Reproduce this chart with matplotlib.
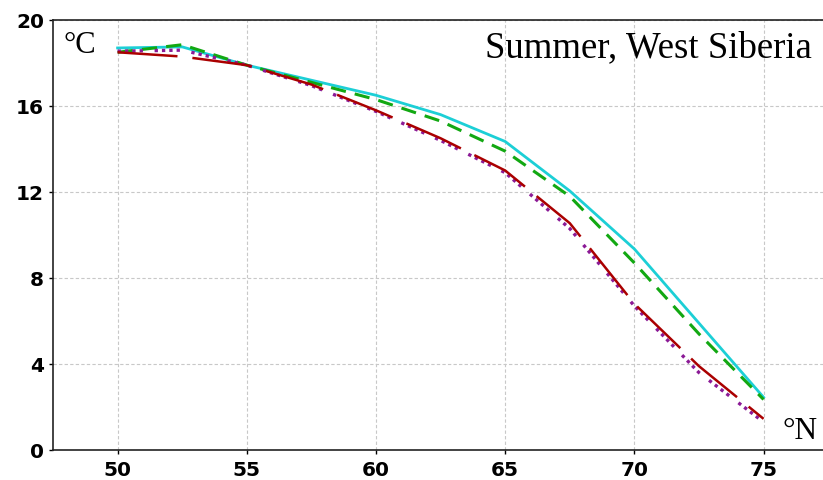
import matplotlib
matplotlib.use("Agg")
import matplotlib.pyplot as plt

lat = [50, 52.5, 55, 57.5, 60, 62.5, 65, 67.5, 70, 72.5, 75]
cyan_vals = [18.7, 18.75, 17.9, 17.2, 16.5, 15.6, 14.35, 12.05, 9.35, 5.9, 2.45]
green_vals = [18.5, 18.85, 17.9, 17.1, 16.3, 15.3, 13.9, 11.8, 8.7, 5.4, 2.35]
red_vals = [18.5, 18.3, 17.9, 17.0, 15.8, 14.5, 13.0, 10.55, 6.8, 3.9, 1.45]
purple_vals = [18.55, 18.6, 17.9, 16.95, 15.75, 14.4, 12.9, 10.3, 6.7, 3.6, 1.3]
yticks = [0, 4, 8, 12, 16, 20]
xticks = [50, 55, 60, 65, 70, 75]

fig = plt.figure(figsize=(8.23, 4.8), dpi=100)
ax = fig.add_axes([0.0644, 0.0625, 0.9356, 0.8958])

ax.plot(lat, cyan_vals, color="#1ccfd6", lw=2.0, solid_joinstyle="miter")
ax.plot(lat, green_vals, color="#12a812", lw=2.2, linestyle=(0, (5, 3)))
ax.plot(lat, purple_vals, color="#8b1a96", lw=2.4, linestyle=(0, (1, 1.2, 1, 1.2, 1, 1.2, 1, 3.5)))
ax.plot(lat, red_vals, color="#aa0000", lw=1.8, linestyle=(0, (24, 6)))

ax.set_xlim(47.5, 77.3)
ax.set_ylim(0, 20)
ax.set_xticks(xticks)
ax.set_yticks(yticks)
ax.tick_params(axis="both", labelsize=14.5, length=3, width=1, direction="out")
ax.tick_params(axis="x", pad=5)
for lab in ax.get_xticklabels() + ax.get_yticklabels():
    lab.set_fontweight("bold")
    lab.set_family("DejaVu Sans")
ax.grid(True, color="#c8c8c8", linestyle=(0, (3, 2)), linewidth=0.8)
for s in ["left", "bottom", "top"]:
    ax.spines[s].set_color("#222222")
    ax.spines[s].set_linewidth(1.2)
ax.spines["right"].set_visible(False)

ax.text(0.013, 0.975, "°C", transform=ax.transAxes, fontsize=22,
        family="Liberation Serif", ha="left", va="top")
ax.text(0.985, 0.975, "Summer, West Siberia", transform=ax.transAxes, fontsize=26.5,
        family="Liberation Serif", ha="right", va="top")
ax.text(75.75, 0.2, "°N", fontsize=22.5, family="Liberation Serif", ha="left", va="bottom")

fig.savefig("out.png", dpi=100)
